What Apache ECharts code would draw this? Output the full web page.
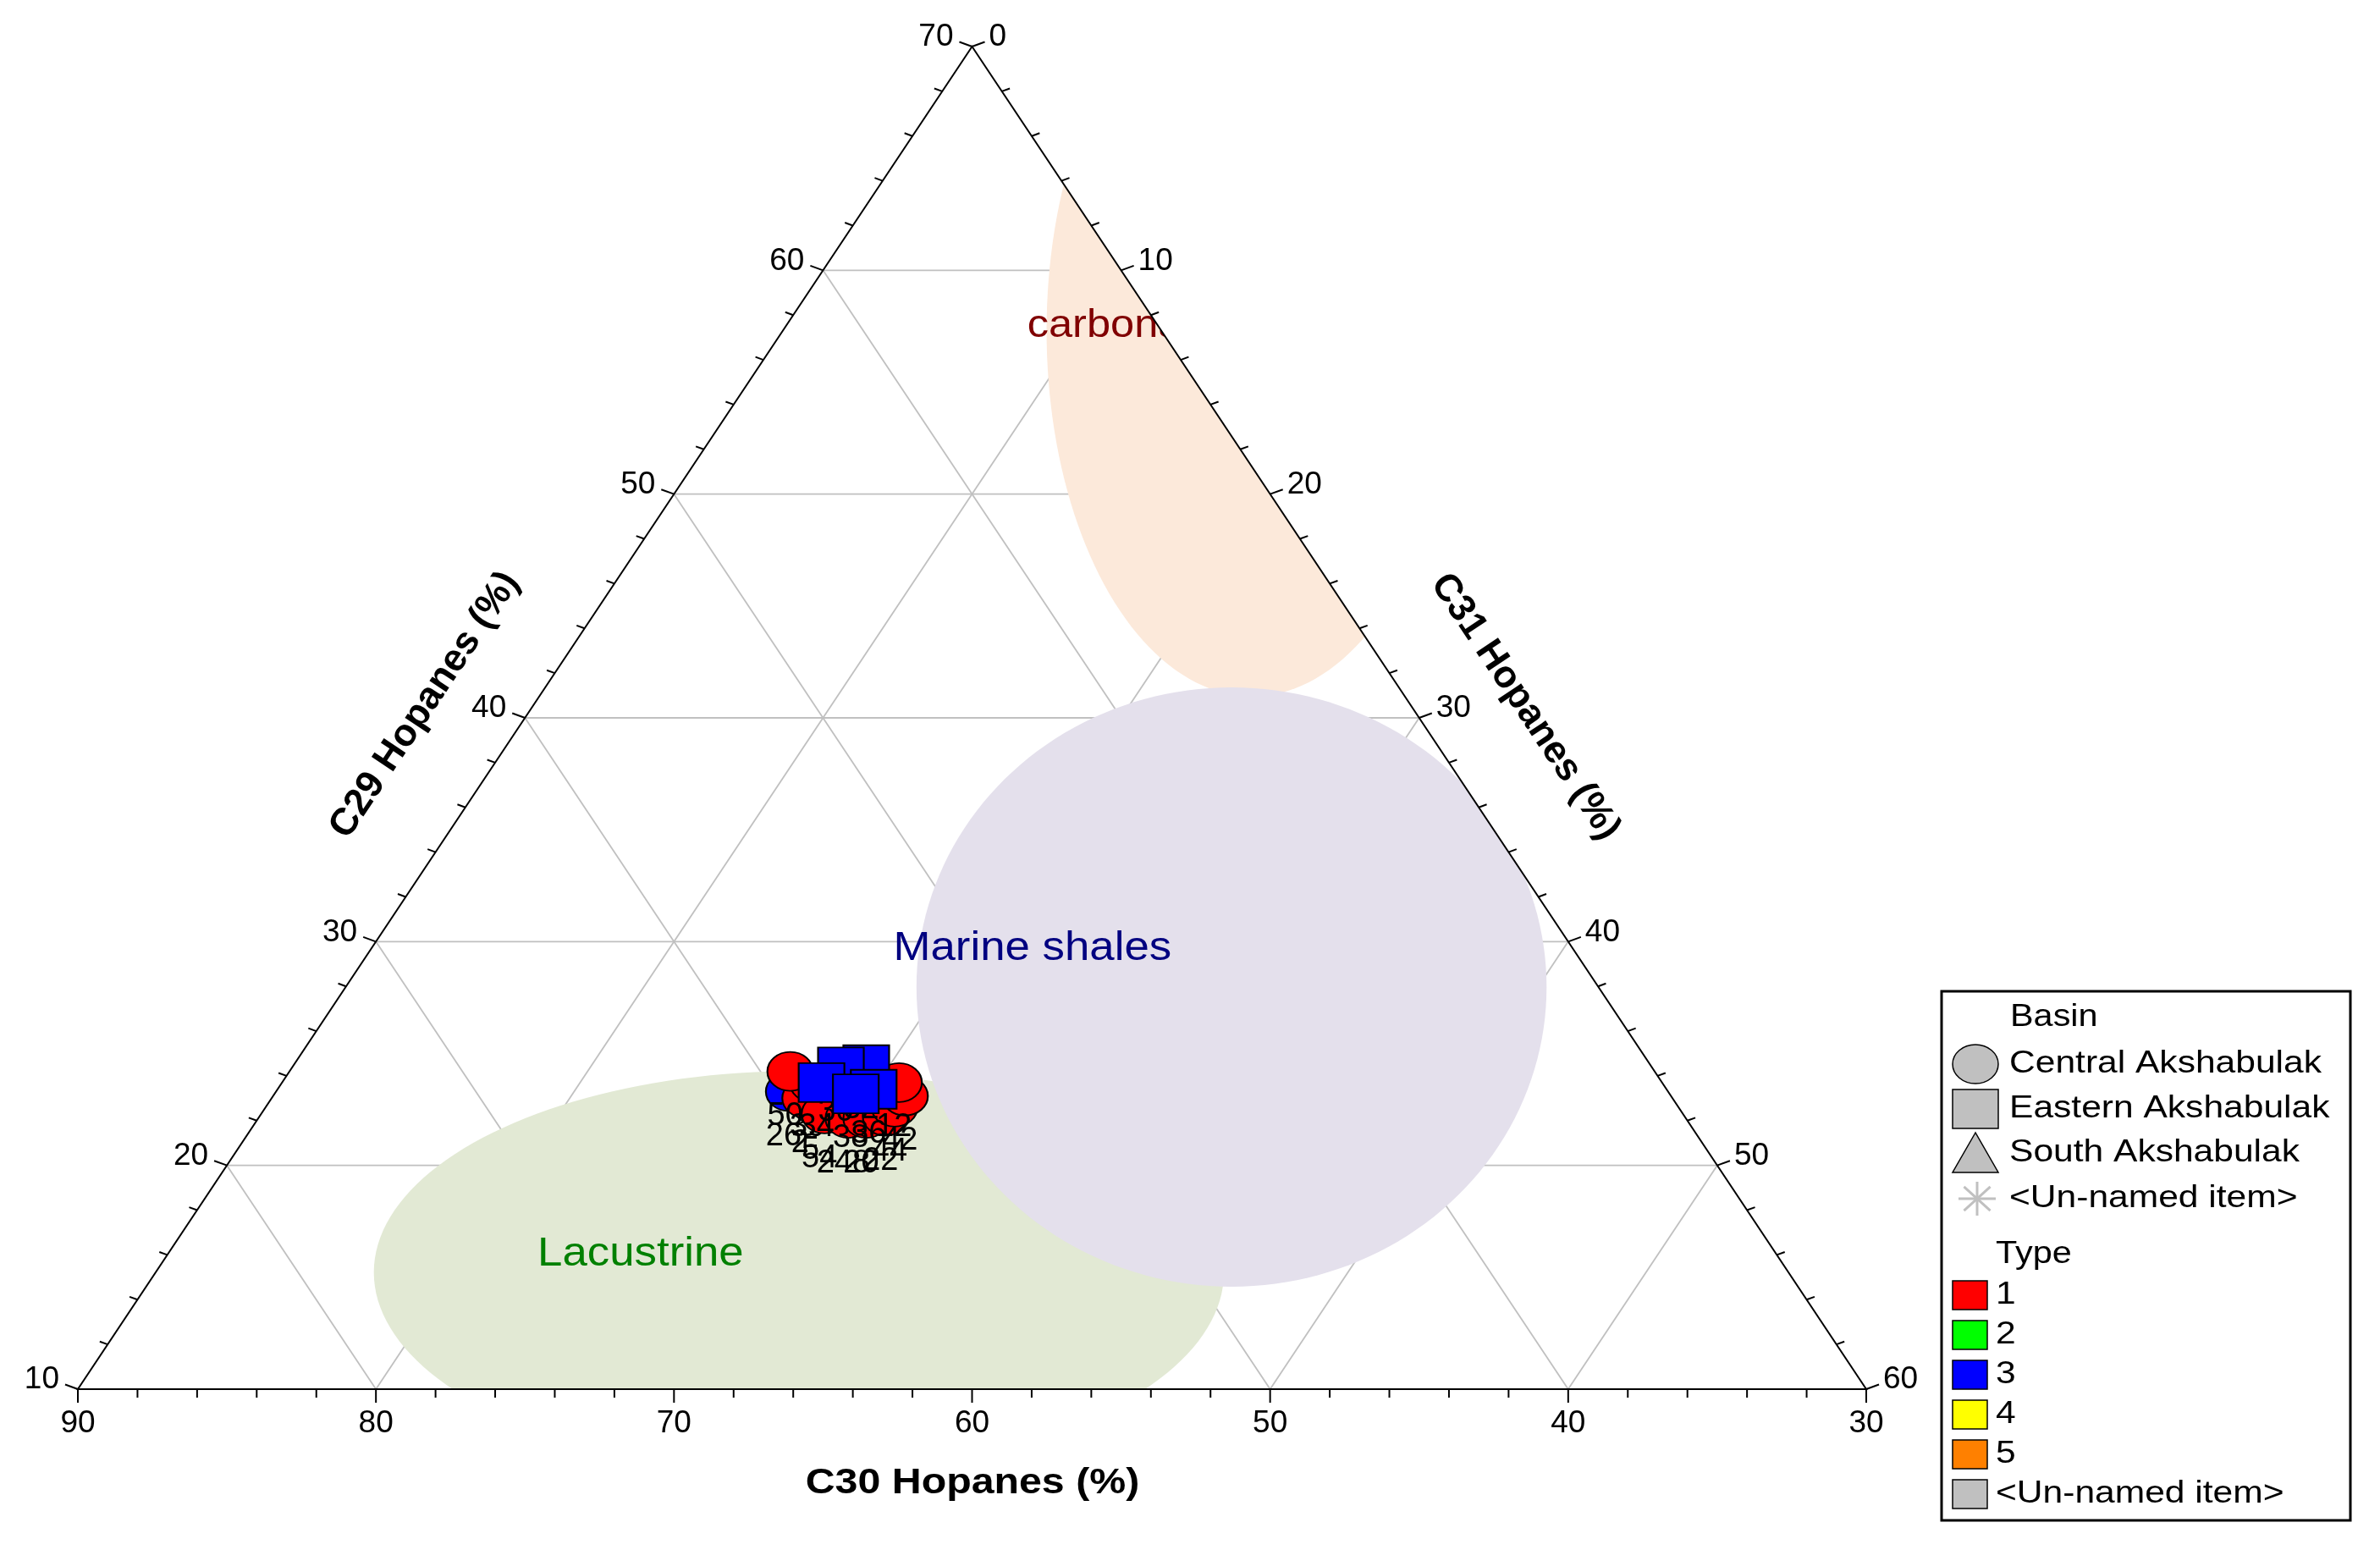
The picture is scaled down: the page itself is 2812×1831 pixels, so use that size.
<!DOCTYPE html>
<html>
<head>
<meta charset="utf-8">
<title>C29 - C30 - C31 Hopanes ternary</title>
<script src="https://cdn.jsdelivr.net/npm/echarts@6.0.0/dist/echarts.min.js"></script>
<style>
  html, body { margin: 0; padding: 0; background: #ffffff; }
  #chart { width: 2812px; height: 1831px; }
</style>
</head>
<body>
<div id="chart"></div>
<script>
// Axis tick labels (percent)
const c30Ticks = [90, 80, 70, 60, 50, 40, 30];
const c29Ticks = [10, 20, 30, 40, 50, 60, 70];
const c31Ticks = [0, 10, 20, 30, 40, 50, 60];
const minorStep = 2;

// Oil samples (drawing order: later ones on top)
const sampleLabel = ['5', '26', '2', '39', '50', '54', '248', '20', '22', '44', '42', '12', '32', '30', '36', '34', '38'];
const sampleBasin = [
  'Central Akshabulak', 'Central Akshabulak', 'Central Akshabulak', 'Central Akshabulak',
  'Central Akshabulak', 'Central Akshabulak', 'Central Akshabulak', 'Central Akshabulak',
  'Central Akshabulak', 'Central Akshabulak', 'Central Akshabulak', 'Central Akshabulak',
  'Eastern Akshabulak', 'Eastern Akshabulak', 'Eastern Akshabulak', 'Eastern Akshabulak',
  'Eastern Akshabulak'
];
const sampleType = [2, 3, 1, 1, 1, 1, 1, 1, 1, 1, 1, 1, 3, 3, 3, 3, 3];
const sampleC30 = [58.9, 59.5, 59.1, 58.5, 59.0, 58.8, 58.1, 57.5, 56.8, 56.3, 55.7, 55.6, 56.3, 57.2, 56.6, 58.2, 57.3];
const sampleC29 = [22.7, 23.3, 23.0, 23.7, 24.2, 22.3, 22.1, 22.1, 22.2, 22.6, 23.1, 23.7, 24.5, 24.4, 23.4, 23.7, 23.2];
const sampleC31 = [18.4, 17.2, 17.9, 17.8, 16.8, 18.9, 19.8, 20.4, 21.0, 21.1, 21.2, 20.7, 19.2, 18.4, 20.0, 18.1, 19.5];

// Source-rock fields: ellipse centre (C30, C29, C31) and semi-axes in % units
const zoneName = ['carbonates', 'Lacustrine', 'Marine shales'];
const zoneC30 = [26.95, 63.2, 42.31];
const zoneC29 = [57.3, 15.22, 27.97];
const zoneC31 = [15.75, 21.58, 29.72];
const zoneRx = [6.9, 14.26, 10.57];
const zoneRy = [16.34, 9.0, 13.39];
// where each field name is written
const zoneLabelC30 = [34.4, 68.11, 48.14];
const zoneLabelC29 = [57.5, 16.02, 29.67];
const zoneLabelC31 = [8.1, 15.87, 22.19];

// Legend entries
const basinNames = ['Central Akshabulak', 'Eastern Akshabulak', 'South Akshabulak', '<Un-named item>'];
const typeNames = ['1', '2', '3', '4', '5', '<Un-named item>'];

// styles
const FONT = "'Liberation Sans', Arial, sans-serif";
const typeColors = ['#ff0000', '#00ff00', '#0000ff', '#ffff00', '#ff8000', '#c0c0c0'];
const basinSymbol = { 'Central Akshabulak': 'circle', 'Eastern Akshabulak': 'rect', 'South Akshabulak': 'triangle' };
const zoneFill = ['#fce9da', '#e2e9d4', '#e4e0ec'];
const zoneText = ['#800000', '#008000', '#000080'];

// ternary (C30, C29, C31) -> plot units: u along base (0..1), v up (0..1)
function tern(c30, c29, c31) {
  const v = (c29 - 10) / 60;
  return [c31 / 60 + v / 2, v];
}

const triangle = [[0, 0], [1, 0], [0.5, 1]];

function clipPoly(pts, clip) {
  let out = pts;
  for (let i = 0; i < clip.length; i++) {
    const a = clip[i];
    const b = clip[(i + 1) % clip.length];
    const side = p => (b[0] - a[0]) * (p[1] - a[1]) - (b[1] - a[1]) * (p[0] - a[0]);
    const inp = out;
    out = [];
    for (let j = 0; j < inp.length; j++) {
      const p = inp[j];
      const q = inp[(j + 1) % inp.length];
      const sp = side(p);
      const sq = side(q);
      if (sp >= 0) out.push(p);
      if ((sp >= 0) !== (sq >= 0)) {
        const t = sp / (sp - sq);
        out.push([p[0] + t * (q[0] - p[0]), p[1] + t * (q[1] - p[1])]);
      }
    }
  }
  return out;
}

// grid lines every 10 %
const gridLines = [];
c29Ticks.slice(1, -1).forEach(k => gridLines.push([tern(100 - k, k, 0), tern(30, k, 70 - k)]));
c30Ticks.slice(1, -1).forEach(k => gridLines.push([tern(k, 10, 90 - k), tern(k, 100 - k, 0)]));
c31Ticks.slice(1, -1).forEach(k => gridLines.push([tern(90 - k, 10, k), tern(30, 70 - k, k)]));

// the three sides
const cosT = Math.cos(20 * Math.PI / 180);
const sinT = Math.sin(20 * Math.PI / 180);
const axisDefs = [
  { ticks: c30Ticks, min: 30, max: 90, point: x => tern(x, 10, 90 - x), dir: [0, 1], lab: [0, 41], align: 'center' },
  { ticks: c29Ticks, min: 10, max: 70, point: x => tern(100 - x, x, 0), dir: [-cosT, -sinT], lab: [-22, -11], align: 'right' },
  { ticks: c31Ticks, min: 0, max: 60, point: x => tern(30, 70 - x, x), dir: [cosT, -sinT], lab: [20, -11], align: 'left' }
];
const tickItems = [];
axisDefs.forEach((d, k) => {
  for (let x = d.min; x <= d.max; x += minorStep) tickItems.push([k, x]);
});

const chartDom = document.getElementById('chart');
const myChart = echarts.init(chartDom);

// legend box drawn with graphic elements
const legendChildren = [
  { type: 'rect', shape: { x: 2294, y: 1171, width: 483, height: 625 }, style: { fill: '#fff', stroke: '#000', lineWidth: 3 } },
  { type: 'text', x: 2375, y: 1202, scaleX: 1.15, style: { text: 'Basin', fill: '#000', fontSize: 36, fontFamily: FONT, align: 'left', verticalAlign: 'middle' } },
  { type: 'text', x: 2358, y: 1482, scaleX: 1.15, style: { text: 'Type', fill: '#000', fontSize: 36, fontFamily: FONT, align: 'left', verticalAlign: 'middle' } }
];
const basinRowY = [1257, 1310, 1362, 1416];
basinNames.forEach((n, i) => {
  const cy = basinRowY[i];
  const sym = basinSymbol[n];
  let shape;
  if (sym === 'circle') {
    shape = { type: 'ellipse', shape: { cx: 2334, cy: cy, rx: 27, ry: 23 }, style: { fill: '#c0c0c0', stroke: '#000', lineWidth: 1.5 } };
  } else if (sym === 'rect') {
    shape = { type: 'rect', shape: { x: 2307, y: cy - 23, width: 54, height: 46 }, style: { fill: '#c0c0c0', stroke: '#000', lineWidth: 1.5 } };
  } else if (sym === 'triangle') {
    shape = { type: 'polygon', shape: { points: [[2334, cy - 24], [2307, cy + 23], [2361, cy + 23]] }, style: { fill: '#c0c0c0', stroke: '#000', lineWidth: 1.5 } };
  } else {
    const spokes = [];
    for (let a = 0; a < 4; a++) {
      const ang = a * Math.PI / 4;
      spokes.push({ type: 'line', shape: { x1: 2336 - 22 * Math.cos(ang), y1: cy - 20 * Math.sin(ang), x2: 2336 + 22 * Math.cos(ang), y2: cy + 20 * Math.sin(ang) }, style: { stroke: '#c0c0c0', lineWidth: 3 } });
    }
    shape = { type: 'group', children: spokes };
  }
  legendChildren.push(shape);
  legendChildren.push({ type: 'text', x: 2374, y: cy, scaleX: 1.15, style: { text: n, fill: '#000', fontSize: 37, fontFamily: FONT, align: 'left', verticalAlign: 'middle' } });
});
typeNames.forEach((n, i) => {
  const cy = 1530 + i * 47;
  legendChildren.push({ type: 'rect', shape: { x: 2307, y: cy - 17, width: 41, height: 34 }, style: { fill: typeColors[i], stroke: '#000', lineWidth: 1.5 } });
  legendChildren.push({ type: 'text', x: 2358, y: cy, scaleX: 1.15, style: { text: n, fill: '#000', fontSize: 37, fontFamily: FONT, align: 'left', verticalAlign: 'middle' } });
});

const edgeAngle = Math.atan2(1586, 1057);

// one scatter series per sample so that each symbol covers the labels drawn before it
const sampleSeries = sampleLabel.map((lab, i) => ({
  type: 'scatter',
  name: lab,
  z: 5 + i,
  symbolSize: [54, 46],
  symbol: basinSymbol[sampleBasin[i]],
  itemStyle: { color: typeColors[sampleType[i] - 1], borderColor: '#000', borderWidth: 2, opacity: 1 },
  label: {
    show: true, position: 'bottom', distance: 10, offset: [-6, 0],
    formatter: '{b}', color: '#000', fontSize: 38, fontFamily: FONT
  },
  emphasis: { disabled: true },
  data: [{ name: lab, value: tern(sampleC30[i], sampleC29[i], sampleC31[i]) }]
}));

const option = {
  animation: false,
  backgroundColor: '#ffffff',
  grid: { left: 92, top: 55, right: 607, bottom: 190 },
  xAxis: { type: 'value', min: 0, max: 1, show: false },
  yAxis: { type: 'value', min: 0, max: 1, show: false },
  graphic: [
    { type: 'group', z: 40, children: legendChildren },
    { type: 'text', x: 1149, y: 1752, scaleX: 1.15, z: 40, style: { text: 'C30 Hopanes (%)', fill: '#000', fontSize: 42, fontWeight: 'bold', fontFamily: FONT, align: 'center', verticalAlign: 'middle' } },
    { type: 'text', x: 502, y: 833, rotation: edgeAngle, z: 40, style: { text: 'C29 Hopanes (%)', fill: '#000', fontSize: 45, fontWeight: 'bold', fontFamily: FONT, align: 'center', verticalAlign: 'middle' } },
    { type: 'text', x: 1802, y: 835, rotation: -edgeAngle, z: 40, style: { text: 'C31 Hopanes (%)', fill: '#000', fontSize: 45, fontWeight: 'bold', fontFamily: FONT, align: 'center', verticalAlign: 'middle' } }
  ],
  series: [
    {
      // light grid
      type: 'custom',
      z: 1,
      silent: true,
      data: gridLines.map((l, i) => [i]),
      renderItem: (params, api) => {
        const l = gridLines[params.dataIndex];
        const p1 = api.coord(l[0]);
        const p2 = api.coord(l[1]);
        return { type: 'line', shape: { x1: p1[0], y1: p1[1], x2: p2[0], y2: p2[1] }, style: { stroke: '#c0c0c0', lineWidth: 1.8 } };
      }
    },
    {
      // source-rock fields
      type: 'custom',
      z: 2,
      silent: true,
      data: zoneName.map((n, i) => [i]),
      renderItem: (params, api) => {
        const i = params.dataIndex;
        const c = tern(zoneC30[i], zoneC29[i], zoneC31[i]);
        const ring = [];
        for (let d = 0; d < 360; d += 2) {
          const t = d * Math.PI / 180;
          ring.push([c[0] + zoneRx[i] / 60 * Math.cos(t), c[1] + zoneRy[i] / 60 * Math.sin(t)]);
        }
        const pts = clipPoly(ring, triangle).map(p => api.coord(p));
        const lp = api.coord(tern(zoneLabelC30[i], zoneLabelC29[i], zoneLabelC31[i]));
        return {
          type: 'group',
          children: [
            { type: 'polygon', shape: { points: pts }, style: { fill: zoneFill[i] } },
            { type: 'text', x: lp[0], y: lp[1], scaleX: 1.1, z2: 5,
              style: { text: zoneName[i], fill: zoneText[i], fontSize: i === 0 ? 46 : 48, fontFamily: FONT,
                align: i === 0 ? 'left' : 'center', verticalAlign: 'middle' } }
          ]
        };
      }
    },
    {
      // blank out the part of the field name that runs past the C31 side
      type: 'custom',
      z: 3,
      silent: true,
      data: [[0]],
      renderItem: (params, api) => {
        const pts = [[0.76, 0], [0.83, 0], [0.83, 0.07], [0.76, 0.07]].map(p =>
          api.coord([1 - p[0] / 2 + p[1], p[0]]));
        return { type: 'polygon', shape: { points: pts }, style: { fill: '#ffffff' } };
      }
    },
    {
      // triangle outline
      type: 'custom',
      z: 4,
      silent: true,
      data: [[0]],
      renderItem: (params, api) => ({
        type: 'polygon',
        shape: { points: triangle.map(p => api.coord(p)) },
        style: { fill: 'none', stroke: '#000', lineWidth: 2 }
      })
    },
    {
      // ticks and tick labels on the three sides
      type: 'custom',
      z: 4,
      silent: true,
      data: tickItems,
      renderItem: (params, api) => {
        const item = tickItems[params.dataIndex];
        const d = axisDefs[item[0]];
        const x = item[1];
        const p = api.coord(d.point(x));
        const major = d.ticks.includes(x);
        const len = major ? 16 : 10;
        const children = [{
          type: 'line',
          shape: { x1: p[0], y1: p[1], x2: p[0] + d.dir[0] * len, y2: p[1] + d.dir[1] * len },
          style: { stroke: '#000', lineWidth: 2 }
        }];
        if (major) {
          children.push({
            type: 'text', x: p[0] + d.lab[0], y: p[1] + d.lab[1],
            style: { text: String(x), fill: '#000', fontSize: 37, fontFamily: FONT, align: d.align, verticalAlign: 'middle' }
          });
        }
        return { type: 'group', children: children };
      }
    }
  ].concat(sampleSeries)
};

myChart.setOption(option);

window.addEventListener('resize', () => {
  myChart.resize();
});
</script>
</body>
</html>
